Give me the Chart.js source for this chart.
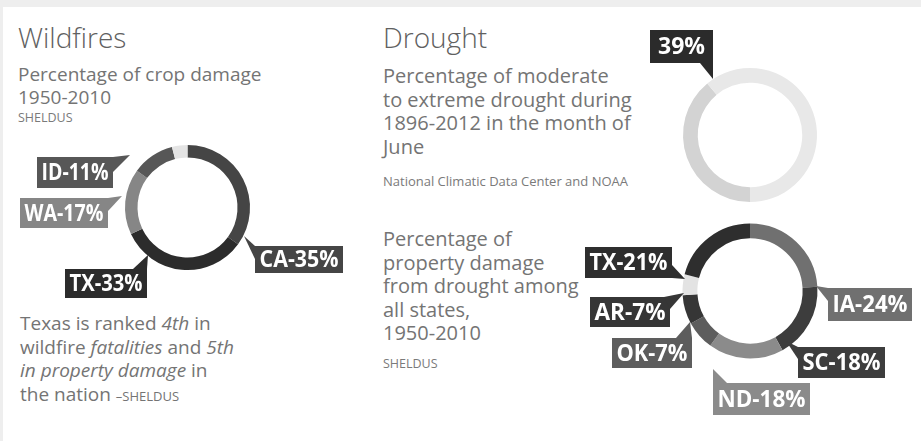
<!DOCTYPE html>
<html>
<head>
<meta charset="utf-8">
<script src="https://cdn.jsdelivr.net/npm/chart.js@4.4.1/dist/chart.umd.min.js"></script>
<style>
  html, body { margin: 0; padding: 0; }
  body { width: 921px; height: 441px; position: relative; overflow: hidden; background: #ffffff;
         font-family: 'Open Sans', 'DejaVu Sans', sans-serif; }
  .band-top { position: absolute; left: 0; top: 0; width: 921px; height: 7px; background: #eeeeee; }
  .band-left { position: absolute; left: 0; top: 0; width: 3px; height: 441px; background: #eeeeee; }
  canvas { position: absolute; left: 0; top: 0; }
  .txt { position: absolute; white-space: nowrap; color: #747474; font-weight: 400; }
  .title { font-size: 28px; line-height: 28px; font-weight: 300; color: #606060; }
  .sub19 { font-size: 19px; line-height: 23px; }
  .sub20 { font-size: 20px; line-height: 23.6px; }
  .src { font-size: 12.5px; line-height: 14px; color: #7a7a7a; }
  .wide { font-size: 13px; }
  .sc { font-size: 13px; }
  i { font-style: italic; }
</style>
</head>
<body>
<div class="band-top"></div>
<div class="band-left"></div>

<div class="txt title" style="left:18px;top:23px;">Wildfires</div>
<div class="txt sub19" style="left:18px;top:63px;">Percentage of crop damage<br>1950-2010</div>
<div class="txt src" style="left:18px;top:111px;">SHELDUS</div>

<div class="txt sub19" style="left:20px;top:312px;line-height:23.7px;">Texas is ranked <i>4th</i> in<br>wildfire <i>fatalities</i> and <i>5th</i><br><i>in property damage</i> in<br>the nation <span class="sc">–SHELDUS</span></div>

<div class="txt title" style="left:383px;top:23px;">Drought</div>
<div class="txt sub20" style="left:383px;top:64px;">Percentage of moderate<br>to extreme drought during<br>1896-2012 in the month of<br>June</div>
<div class="txt src wide" style="left:383px;top:174px;">National Climatic Data Center and NOAA</div>

<div class="txt sub20" style="left:383px;top:227px;line-height:23.5px;">Percentage of<br>property damage<br>from drought among<br>all states,<br>1950-2010</div>
<div class="txt src" style="left:383px;top:357px;">SHELDUS</div>

<canvas id="wildfire" width="921" height="441"></canvas>
<canvas id="juneDrought" width="921" height="441"></canvas>
<canvas id="propertyDamage" width="921" height="441"></canvas>

<script>
// ---- data ----
const wildfireStates = ['CA', 'TX', 'WA', 'ID', 'Other'];
const wildfireShares = [35, 33, 17, 11, 4];

const juneCategories = ['Moderate to extreme drought', 'Other years'];
const juneShares = [39, 61];

const damageStates = ['IA', 'SC', 'ND', 'OK', 'AR', 'Other', 'TX'];
const damageShares = [24, 18, 18, 7, 7, 5, 21];

// ---- styling ----
const wildfireColors = ['#454545', '#2c2c2c', '#868686', '#575757', '#e4e4e4'];
const juneColors = ['#d3d3d3', '#e8e8e8'];
const damageColors = ['#707070', '#3d3d3d', '#8b8b8b', '#5d5d5d', '#363636', '#e3e3e3', '#2e2e2e'];

const W = 921, H = 441;
const labelFont = "bold 23px 'Open Sans', 'DejaVu Sans', sans-serif";

// place a ring of radius r centred on (cx, cy) inside a full-page canvas
function ringPadding(cx, cy, r) {
  return { left: cx - r, top: cy - r, right: W - cx - r, bottom: H - cy - r };
}

// boxed callouts with a pointer tail; geometry is given relative to the ring centre
const calloutPlugin = {
  id: 'callouts',
  afterDatasetsDraw(chart, args, opts) {
    const meta = chart.getDatasetMeta(0);
    const arc = meta.data[0];
    const cx = arc.x, cy = arc.y;
    const ds = chart.data.datasets[0];
    const ctx = chart.ctx;
    ctx.save();
    ctx.font = labelFont;
    ctx.textAlign = 'center';
    ctx.textBaseline = 'middle';
    (opts.items || []).forEach(item => {
      const color = item.color || ds.backgroundColor[item.index];
      const [bx, by, bw, bh] = item.box;
      ctx.fillStyle = color;
      ctx.fillRect(cx + bx, cy + by, bw, bh);
      ctx.beginPath();
      item.tail.forEach(([tx, ty], k) => {
        if (k === 0) ctx.moveTo(cx + tx, cy + ty); else ctx.lineTo(cx + tx, cy + ty);
      });
      ctx.closePath();
      ctx.fill();
      const value = ds.data[item.index];
      const text = item.valueOnly ? value + '%' : chart.data.labels[item.index] + '-' + value + '%';
      ctx.fillStyle = '#ffffff';
      // condensed lettering: squeeze the text to the box's inner width
      ctx.fillText(text, cx + bx + bw / 2, cy + by + bh / 2 + 1, bw - 9);
    });
    ctx.restore();
  }
};

function ringChart(id, labels, values, colors, ring, cutout, rotation, items) {
  return new Chart(document.getElementById(id), {
    type: 'doughnut',
    data: {
      labels: labels,
      datasets: [{
        data: values,
        backgroundColor: colors,
        borderWidth: 0,
        hoverOffset: 0,
        offset: 0
      }]
    },
    options: {
      responsive: false,
      animation: false,
      devicePixelRatio: 1,
      cutout: cutout,
      rotation: rotation,
      layout: { padding: ringPadding(ring[0], ring[1], ring[2]) },
      events: [],
      plugins: {
        legend: { display: false },
        tooltip: { enabled: false },
        callouts: { items: items }
      }
    },
    plugins: [calloutPlugin]
  });
}

ringChart('wildfire', wildfireStates, wildfireShares, wildfireColors,
  [187.5, 207.5, 62.5], '80%', 0, [
    { index: 0, box: [67.5, 38.5, 88, 27], tail: [[56.5, 28.5], [67.5, 38.5], [67.5, 51.5]] },
    { index: 1, box: [-122.5, 61.5, 82, 29], tail: [[-54.5, 61.5], [-39.5, 47.5], [-40.5, 61.5]] },
    { index: 2, box: [-167.5, -9.5, 88, 30], tail: [[-79.5, -9.5], [-65.5, -11.5], [-79.5, 3.5]] },
    { index: 3, box: [-150.5, -50.5, 76, 31], tail: [[-74.5, -50.5], [-57.5, -52.5], [-74.5, -35.5]] }
  ]);

ringChart('juneDrought', juneCategories, juneShares, juneColors,
  [750, 135, 67], '78%', 180, [
    { index: 0, valueOnly: true, color: '#2b2b2b', box: [-100, -105, 63, 33],
      tail: [[-50, -72], [-37, -72], [-37, -56]] }
  ]);

ringChart('propertyDamage', damageStates, damageShares, damageColors,
  [750, 291, 67.5], '78%', 0, [
    { index: 0, box: [78, -3, 84, 33], tail: [[78, -3], [66, -5], [78, 10]] },
    { index: 1, box: [48, 56, 87, 31], tail: [[48, 56], [36, 50], [48, 68]] },
    { index: 2, box: [-37, 92, 97, 32], tail: [[-37, 92], [-37, 78], [-23, 92]] },
    { index: 3, box: [-138, 47, 80, 30], tail: [[-74, 47], [-60, 31], [-58, 47]] },
    { index: 4, box: [-160, 6, 80, 30], tail: [[-86, 6], [-66, 2], [-80, 18]] },
    { index: 6, box: [-165, -44, 87, 31], tail: [[-78, -26], [-65, -12], [-78, -13]] }
  ]);
</script>
</body>
</html>
